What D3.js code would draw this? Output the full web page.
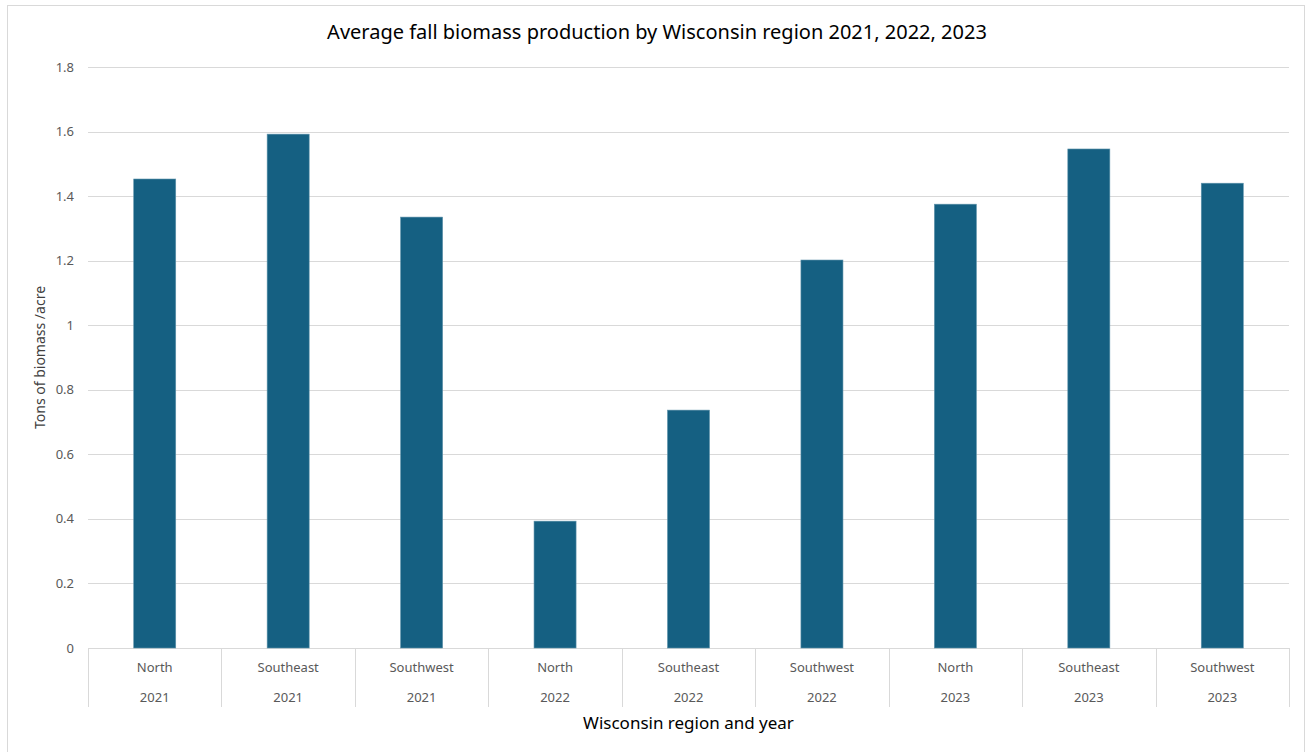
<!DOCTYPE html>
<html>
<head>
<meta charset="utf-8">
<script src="https://cdn.jsdelivr.net/npm/d3@7"></script>
<style>
  html, body { margin: 0; padding: 0; background: #fff; }
  svg { display: block; font-family: "Noto Sans", "Open Sans", sans-serif; }
</style>
</head>
<body>
<svg id="chart" width="1310" height="752"></svg>
<script>
// Fall biomass (tons/acre) by region and year
const regions = ["North", "Southeast", "Southwest", "North", "Southeast", "Southwest", "North", "Southeast", "Southwest"];
const years = ["2021", "2021", "2021", "2022", "2022", "2022", "2023", "2023", "2023"];
const biomass = [1.453, 1.592, 1.335, 0.393, 0.737, 1.202, 1.375, 1.546, 1.44];
const yTicks = [0, 0.2, 0.4, 0.6, 0.8, 1, 1.2, 1.4, 1.6, 1.8];

const svg = d3.select("#chart");
const m = { left: 88, right: 1289, top: 67, bottom: 648 };

// chart frame
svg.append("rect")
  .attr("x", 7.5).attr("y", 5.5)
  .attr("width", 1297).attr("height", 760)
  .attr("fill", "#fff").attr("stroke", "#d9d9d9").attr("stroke-width", 1);

const idx = biomass.map((_, i) => i);
const x = d3.scaleBand().domain(idx).range([m.left, m.right]).paddingInner(0).paddingOuter(0);
const y = d3.scaleLinear().domain([0, 1.8]).range([m.bottom, m.top]);

// horizontal gridlines
svg.append("g")
  .selectAll("line")
  .data(yTicks)
  .join("line")
  .attr("x1", m.left).attr("x2", m.right)
  .attr("y1", d => Math.round(y(d)) + 0.5)
  .attr("y2", d => Math.round(y(d)) + 0.5)
  .attr("stroke", "#d9d9d9").attr("stroke-width", 1);

// y tick labels
svg.append("g")
  .selectAll("text")
  .data(yTicks)
  .join("text")
  .attr("x", 74)
  .attr("y", d => y(d))
  .attr("dy", "0.35em")
  .attr("text-anchor", "end")
  .attr("fill", "#595959")
  .attr("font-size", 13)
  .text(d => d3.format("~g")(d));

// bars
const bw = x.bandwidth() * 0.315;
svg.append("g")
  .selectAll("rect")
  .data(idx)
  .join("rect")
  .attr("x", i => x(i) + (x.bandwidth() - bw) / 2)
  .attr("y", i => y(biomass[i]))
  .attr("width", bw)
  .attr("height", i => y(0) - y(biomass[i]))
  .attr("fill", "#156082")
  .attr("stroke", "#5f93ab")
  .attr("stroke-width", 0.6);

// category separators
const bounds = idx.map(i => x(i)).concat([m.right]);
svg.append("g")
  .selectAll("line")
  .data(bounds)
  .join("line")
  .attr("x1", d => Math.round(d) + 0.5).attr("x2", d => Math.round(d) + 0.5)
  .attr("y1", m.bottom).attr("y2", 707)
  .attr("stroke", "#d9d9d9").attr("stroke-width", 1);

// category labels (two levels)
const cat = svg.append("g").attr("fill", "#595959").attr("font-size", 13).attr("text-anchor", "middle");
cat.selectAll("text.region")
  .data(idx)
  .join("text")
  .attr("class", "region")
  .attr("x", i => x(i) + x.bandwidth() / 2)
  .attr("y", 672)
  .text(i => regions[i]);
cat.selectAll("text.year")
  .data(idx)
  .join("text")
  .attr("class", "year")
  .attr("x", i => x(i) + x.bandwidth() / 2)
  .attr("y", 702)
  .text(i => years[i]);

// title
svg.append("text")
  .attr("x", 657)
  .attr("y", 39)
  .attr("text-anchor", "middle")
  .attr("font-size", 20)
  .attr("fill", "#000")
  .text("Average fall biomass production by Wisconsin region 2021, 2022, 2023");

// axis titles
svg.append("text")
  .attr("x", (m.left + m.right) / 2)
  .attr("y", 729)
  .attr("text-anchor", "middle")
  .attr("font-size", 17)
  .attr("fill", "#000")
  .text("Wisconsin region and year");

svg.append("text")
  .attr("transform", `translate(45, ${(m.top + m.bottom) / 2}) rotate(-90)`)
  .attr("text-anchor", "middle")
  .attr("font-size", 14)
  .attr("fill", "#404040")
  .text("Tons of biomass /acre");
</script>
</body>
</html>
